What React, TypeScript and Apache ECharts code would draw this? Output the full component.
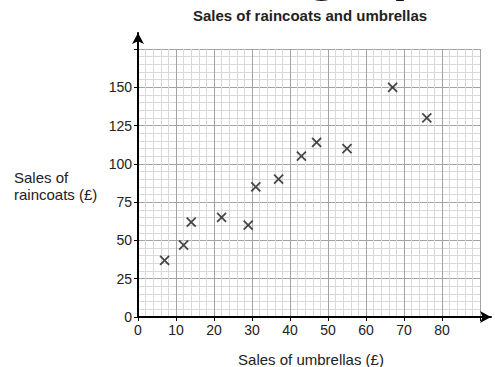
import React, { useEffect, useRef } from "react";
import * as echarts from "echarts";

const umbrellaSales = [7, 12, 14, 22, 29, 31, 37, 43, 47, 55, 67, 76];
const raincoatSales = [37, 47, 62, 65, 60, 85, 90, 105, 114, 110, 150, 130];

const chartTitle = "Sales of raincoats and umbrellas";
const xAxisTitle = "Sales of umbrellas (£)";
const yAxisTitle = "Sales of\nraincoats (£)";
const headingFragment = "graph";

const xMax = 90;
const xStep = 10;
const yMax = 175;
const yStep = 25;

const FONT = "'Liberation Sans', Arial, sans-serif";

export default function App() {
  const ref = useRef<HTMLDivElement>(null);

  useEffect(() => {
    if (!ref.current) return;
    const chart = echarts.init(ref.current, undefined, { renderer: "svg" });
    const points = umbrellaSales.map((x, i) => [x, raincoatSales[i]]);

    const majorLine = { color: "#a3a3a3", width: 1 };
    const minorLine = { color: "#d9d9d9", width: 1 };

    chart.setOption({
      animation: false,
      backgroundColor: "#ffffff",
      textStyle: { fontFamily: FONT },
      grid: [
        { left: 138, top: 49, width: 342, height: 268, show: false },
        { left: 138, top: 33, width: 353, height: 284, show: false },
      ],
      xAxis: [
        {
          gridIndex: 0,
          type: "value",
          min: 0,
          max: xMax,
          interval: xStep,
          axisLine: { show: false },
          axisTick: { show: true, length: 4, lineStyle: { color: "#000", width: 1 } },
          axisLabel: {
            fontSize: 14,
            color: "#222",
            margin: 6,
            fontFamily: FONT,
            formatter: (v: number) => (v === xMax ? "" : String(v)),
          },
          splitLine: { show: true, lineStyle: majorLine },
          minorTick: { show: false, splitNumber: 5 },
          minorSplitLine: { show: true, lineStyle: minorLine },
        },
        {
          gridIndex: 1,
          type: "value",
          min: 0,
          max: 1,
          z: 5,
          axisLine: {
            show: true,
            onZero: false,
            symbol: ["none", "arrow"],
            symbolSize: [9, 11],
            lineStyle: { color: "#000", width: 2 },
          },
          axisTick: { show: false },
          axisLabel: { show: false },
          splitLine: { show: false },
        },
      ],
      yAxis: [
        {
          gridIndex: 0,
          type: "value",
          min: 0,
          max: yMax,
          interval: yStep,
          axisLine: { show: false },
          axisTick: { show: true, length: 4, lineStyle: { color: "#000", width: 1 } },
          axisLabel: {
            fontSize: 14,
            color: "#222",
            margin: 6,
            fontFamily: FONT,
            formatter: (v: number) => (v === yMax ? "" : String(v)),
          },
          splitLine: { show: true, lineStyle: majorLine },
          minorTick: { show: false, splitNumber: 5 },
          minorSplitLine: { show: true, lineStyle: minorLine },
        },
        {
          gridIndex: 1,
          type: "value",
          min: 0,
          max: 1,
          z: 5,
          axisLine: {
            show: true,
            onZero: false,
            symbol: ["none", "arrow"],
            symbolSize: [9, 11],
            lineStyle: { color: "#000", width: 2 },
          },
          axisTick: { show: false },
          axisLabel: { show: false },
          splitLine: { show: false },
        },
      ],
      series: [
        {
          type: "scatter",
          xAxisIndex: 0,
          yAxisIndex: 0,
          z: 10,
          data: points,
          symbol: "path://M0 0L10 10M10 0L0 10",
          symbolSize: 9,
          itemStyle: {
            color: "rgba(0,0,0,0)",
            borderColor: "#1a1a1a",
            borderWidth: 1.8,
          },
          emphasis: { disabled: true },
        },
      ],
      graphic: [
        {
          type: "text",
          x: 305,
          y: -31,
          silent: true,
          style: {
            text: headingFragment,
            font: `bold 56px ${FONT}`,
            fill: "#111",
            align: "left",
            verticalAlign: "middle",
          },
        },
        {
          type: "text",
          x: 310,
          y: 15.5,
          style: {
            text: chartTitle,
            font: `bold 15px ${FONT}`,
            fill: "#222",
            align: "center",
            verticalAlign: "middle",
          },
        },
        {
          type: "text",
          x: 14,
          y: 186,
          style: {
            text: yAxisTitle,
            font: `15px ${FONT}`,
            fill: "#222",
            align: "left",
            verticalAlign: "middle",
            lineHeight: 17,
          },
        },
        {
          type: "text",
          x: 311,
          y: 359.5,
          style: {
            text: xAxisTitle,
            font: `15px ${FONT}`,
            fill: "#222",
            align: "center",
            verticalAlign: "middle",
          },
        },
      ],
    });

    return () => chart.dispose();
  }, []);

  return (
    <div
      ref={ref}
      style={{ position: "absolute", left: 0, top: 0, width: 495, height: 367 }}
    />
  );
}
